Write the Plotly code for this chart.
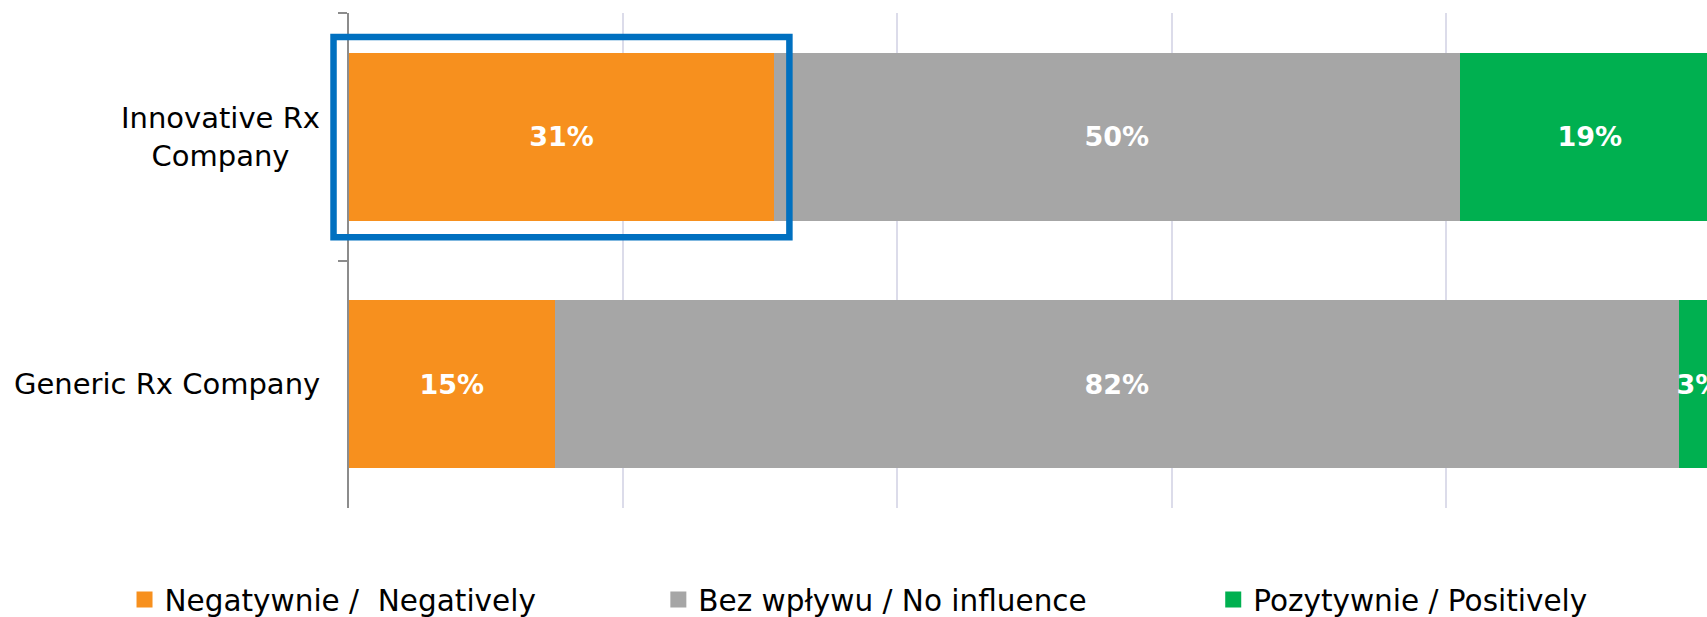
import plotly.graph_objects as go

categories = ["Innovative Rx<br>Company", "Generic Rx Company"]
series_names = ["Negatywnie /  Negatively", "Bez wpływu / No influence", "Pozytywnie / Positively"]
negatively = [31, 15]
no_influence = [50, 82]
positively = [19, 3]
colors = ["#F7901E", "#A6A6A6", "#00B050"]

FONT = "DejaVu Sans"
values = [negatively, no_influence, positively]
legend_ids = ["legend", "legend2", "legend3"]

fig = go.Figure()
for name, vals, col, lg in zip(series_names, values, colors, legend_ids):
    fig.add_trace(go.Bar(
        y=categories, x=vals, name=name, orientation="h",
        marker=dict(color=col, line=dict(width=0)),
        texttemplate="%{x:.0f}%", textposition="inside", textangle=0,
        insidetextanchor="middle", constraintext="none",
        textfont=dict(family=FONT, size=27, color="white", weight="bold"),
        showlegend=False, legendgroup=name, hoverinfo="skip",
    ))
# legend entries (square swatches like the reference)
for name, col, lg in zip(series_names, colors, legend_ids):
    fig.add_trace(go.Scatter(
        x=[None], y=[None], mode="markers", name=name, legend=lg,
        legendgroup=name,
        marker=dict(symbol="square", size=17, color=col, line=dict(width=0)),
        hoverinfo="skip",
    ))

legend_common = dict(orientation="h", yanchor="middle", y=-0.1857, xanchor="left",
                     font=dict(family=FONT, size=29.5, color="#000000"),
                     bgcolor="rgba(0,0,0,0)", borderwidth=0, itemsizing="trace")

fig.update_layout(
    width=1707, height=617,
    margin=dict(l=349, r=0, t=13, b=109, autoexpand=False),
    paper_bgcolor="white", plot_bgcolor="white",
    barmode="stack", bargap=0.32,
    showlegend=True,
    legend=dict(x=-0.1653, **legend_common),
    legend2=dict(x=0.2278, **legend_common),
    legend3=dict(x=0.6364, **legend_common),
    xaxis=dict(range=[0, 99.05], dtick=20, showticklabels=False, showgrid=True,
               gridcolor="#DCDCEA", gridwidth=1.5, zeroline=False, showline=False,
               ticks=""),
    yaxis=dict(autorange="reversed", showticklabels=False, showgrid=False,
               showline=True, linecolor="#8C8C8C", linewidth=2,
               ticks="outside", ticklen=9, tickwidth=2, tickcolor="#8C8C8C",
               tickson="boundaries", zeroline=False),
)

for cat in categories:
    fig.add_annotation(
        x=0, xref="paper", y=cat, yref="y", xanchor="right", yanchor="middle",
        xshift=-27, text=cat, showarrow=False, align="center",
        font=dict(family=FONT, size=29, color="#000000"),
    )

fig.add_shape(type="rect", xref="paper", yref="paper",
              x0=-0.0114, x1=0.3243, y0=0.547, y1=0.9516,
              line=dict(color="#0070C0", width=6.5), fillcolor="rgba(0,0,0,0)",
              layer="above")

fig.write_html("out.html", config={"displayModeBar": False},
               post_script="document.body.style.margin='0';document.body.style.overflow='hidden';")
